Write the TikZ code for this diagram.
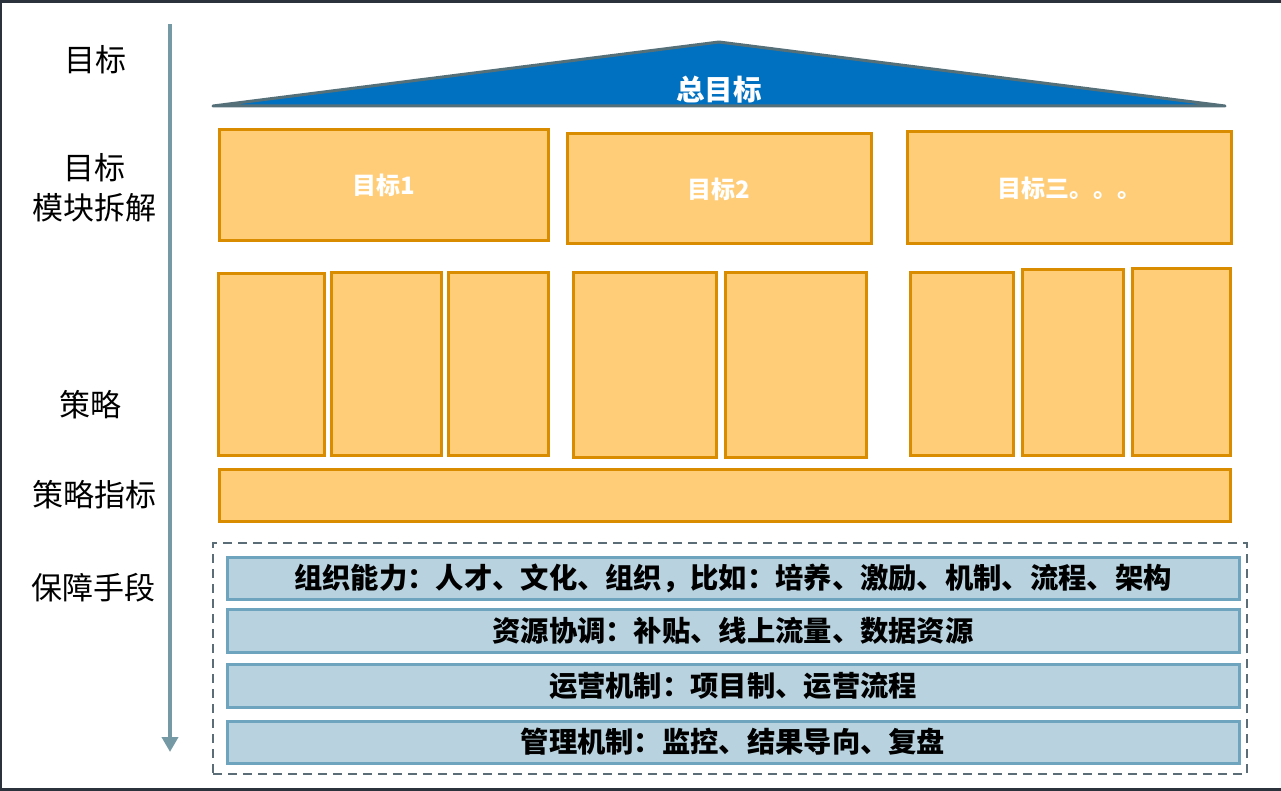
\documentclass[tikz,border=0pt]{standalone}
\usepackage{fontspec}
\setmainfont{Noto Sans CJK SC}
\usetikzlibrary{arrows.meta}
\definecolor{frame}{HTML}{2B323C}
\definecolor{orfill}{HTML}{FFCD78}
\definecolor{ordraw}{HTML}{D98C00}
\definecolor{tribl}{HTML}{0070C0}
\definecolor{tribd}{HTML}{56707A}
\definecolor{blfill}{HTML}{B8D3DF}
\definecolor{bldraw}{HTML}{6FA4BF}
\definecolor{arrowc}{HTML}{7699A6}
\definecolor{dashc}{HTML}{5B6E78}
\tikzset{
  obox/.style={draw=ordraw, fill=orfill, line width=3pt, inner sep=0pt, text=white, font=\fontsize{24}{26}\selectfont\bfseries},
  bbox/.style={draw=bldraw, fill=blfill, line width=3pt, inner sep=0pt, text=black, font=\fontsize{28.3}{30}\selectfont\bfseries},
  lab/.style={font=\fontsize{31}{40}\selectfont, align=center, text=black, inner sep=0pt},
}
\begin{document}
\begin{tikzpicture}[x=1pt,y=-1pt]
\useasboundingbox (0,0) rectangle (1281,791);
\fill[frame] (0,0) rectangle (1281,791);
\fill[white] (2,3) rectangle (1281,788);

% left labels
\node[lab] (l1) at (95,60) {目标};
\node[lab] (l2) at (94,188) {目标\\模块拆解};
\node[lab] (l3) at (90,405) {策略};
\node[lab] (l4) at (94,495) {策略指标};
\node[lab] (l5) at (93,588) {保障手段};

% vertical arrow
\coordinate (as) at (170,24);
\coordinate (ae) at (170,752);
\draw[arrowc, line width=4pt, -{Triangle[width=16pt,length=15pt]}] (as) -- (ae);

% roof
\coordinate (tl) at (213,106);
\coordinate (ta) at (719,42);
\coordinate (tr) at (1225,106);
\draw[fill=tribl, draw=tribd, line width=3pt, line join=round] (tl) -- (ta) -- (tr) -- cycle;
\node[text=white, font=\fontsize{28.5}{30}\selectfont\bfseries] (roof) at (719,90) {总目标};

% goals
\node[obox, minimum width=329pt, minimum height=111pt] (g1) at (383.5,185.5) {目标1};
\node[obox, minimum width=304pt, minimum height=110pt] (g2) at (719,189) {目标2};
\node[obox, minimum width=324pt, minimum height=112pt] (g3) at (1069,188) {目标三。。。};

% strategies
\node[obox, minimum width=106pt, minimum height=181pt] (s1) at (271,364.5) {};
\node[obox, minimum width=110pt, minimum height=182pt] (s2) at (386,364) {};
\node[obox, minimum width=100pt, minimum height=182pt] (s3) at (498,364) {};
\node[obox, minimum width=143pt, minimum height=184pt] (s4) at (644.5,365) {};
\node[obox, minimum width=141pt, minimum height=184pt] (s5) at (795.5,365) {};
\node[obox, minimum width=103pt, minimum height=182pt] (s6) at (961.5,364) {};
\node[obox, minimum width=101pt, minimum height=185pt] (s7) at (1072.5,362.5) {};
\node[obox, minimum width=98pt, minimum height=186pt] (s8) at (1181,362) {};

% strategy indicator bar
\node[obox, minimum width=1011pt, minimum height=52pt] (bar) at (724.5,495) {};

% guarantee
\node[draw=dashc, line width=2pt, dash pattern=on 9pt off 6pt, minimum width=1034pt, minimum height=231pt, inner sep=0pt] (dash) at (730,658.5) {};
\node[bbox, minimum width=1012pt, minimum height=42pt] (b1) at (733,578) {组织能力：人才、文化、组织，比如：培养、激励、机制、流程、架构};
\node[bbox, minimum width=1012pt, minimum height=43pt] (b2) at (733,630.5) {资源协调：补贴、线上流量、数据资源};
\node[bbox, minimum width=1012pt, minimum height=43pt] (b3) at (733,685.5) {运营机制：项目制、运营流程};
\node[bbox, minimum width=1012pt, minimum height=42pt] (b4) at (733,742) {管理机制：监控、结果导向、复盘};
\end{tikzpicture}
\end{document}
